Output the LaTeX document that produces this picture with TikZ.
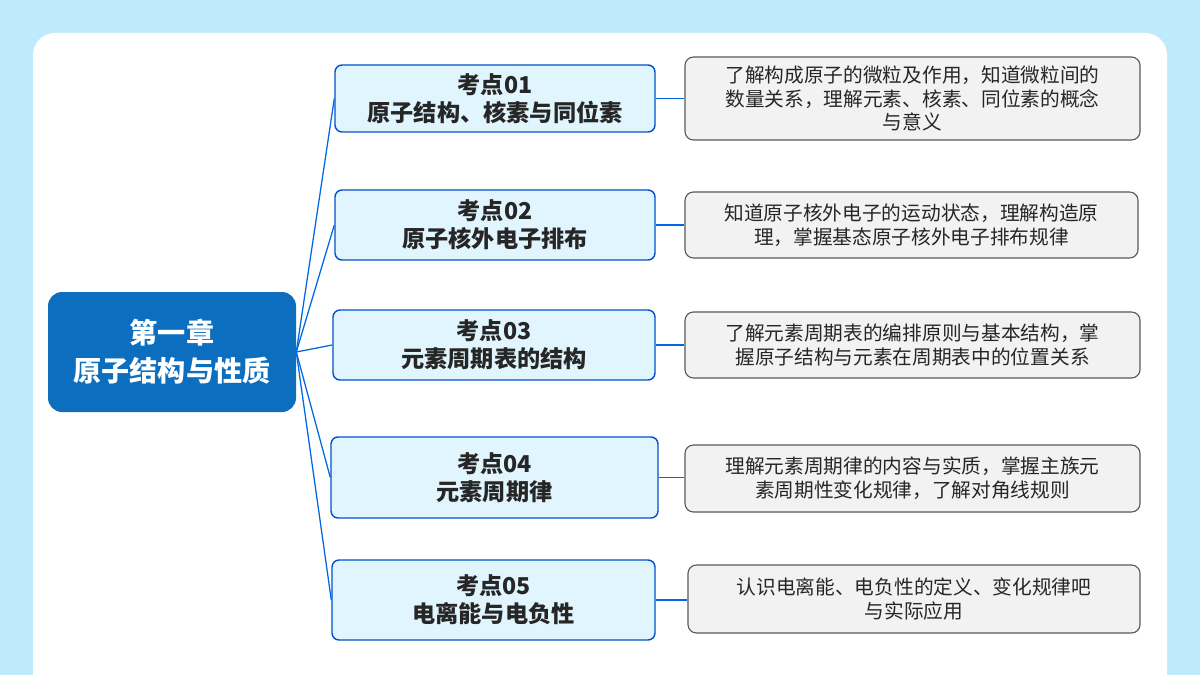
\documentclass[tikz,border=0pt]{standalone}
\usepackage{fontspec}
\setmainfont{Noto Sans CJK SC}
\usetikzlibrary{calc}
\begin{document}
\begin{tikzpicture}[x=0.025cm,y=-0.025cm,
 topic/.style={draw=blue!60!cyan!80!black,line width=1pt,fill=cyan!12,rounded corners=5pt,align=center,font=\fontsize{16.5}{20}\selectfont\bfseries,text=black!85},
 desc/.style={draw=black!65,line width=0.8pt,fill=black!5,rounded corners=6pt,align=center,font=\fontsize{14}{17}\selectfont,text=black!85},
 link/.style={draw=blue!55!cyan!90!black,line width=0.9pt}]
\useasboundingbox (0,0) rectangle (1200,675);
\clip (0,0) rectangle (1200,675);
\fill[cyan!25!white] (0,0) rectangle (1200,675);
\fill[white,rounded corners=0.55cm] (33,33) rectangle (1167,720);
\node[fill={rgb,255:red,11;green,110;blue,190},rounded corners=10pt,minimum width=248*0.025cm,minimum height=120*0.025cm,align=center,text=white,font=\fontsize{20}{27}\selectfont\bfseries] (c) at (172,352) {第一章\\原子结构与性质};
\def\mytp#1#2#3#4#5#6{\node[topic,minimum width=#3*0.025cm,minimum height=#4*0.025cm] (t#1) at (#2,#5) {#6};}
\mytp{1}{495}{320}{67}{98.5}{考点01\\原子结构、核素与同位素}
\mytp{2}{495}{320}{70}{225}{考点02\\原子核外电子排布}
\mytp{3}{494}{322}{70}{345}{考点03\\元素周期表的结构}
\mytp{4}{494.5}{327}{81}{477.5}{考点04\\元素周期律}
\mytp{5}{493.5}{323}{80}{600}{考点05\\电离能与电负性}
\def\mydp#1#2#3#4#5#6{\node[desc,minimum width=#3*0.025cm,minimum height=#4*0.025cm] (d#1) at (#2,#5) {#6};}
\mydp{1}{912.5}{455}{83}{98.5}{了解构成原子的微粒及作用，知道微粒间的\\数量关系，理解元素、核素、同位素的概念\\与意义}
\mydp{2}{911.5}{453}{66}{225}{知道原子核外电子的运动状态，理解构造原\\理，掌握基态原子核外电子排布规律}
\mydp{3}{912.5}{455}{66}{345}{了解元素周期表的编排原则与基本结构，掌\\握原子结构与元素在周期表中的位置关系}
\mydp{4}{912.5}{455}{67}{478.5}{理解元素周期律的内容与实质，掌握主族元\\素周期性变化规律，了解对角线规则}
\mydp{5}{914}{452}{68}{599}{认识电离能、电负性的定义、变化规律吧\\与实际应用}
\foreach \i in {1,...,5}{
 \draw[link] (c.east) .. controls ($(c.east)!0.5!(t\i.west)$ |- c.east) and ($(c.east)!0.5!(t\i.west)$ |- t\i.west) .. (t\i.west);
 \draw[link] (t\i.east) -- (d\i.west |- t\i.east);
}
\end{tikzpicture}
\end{document}
